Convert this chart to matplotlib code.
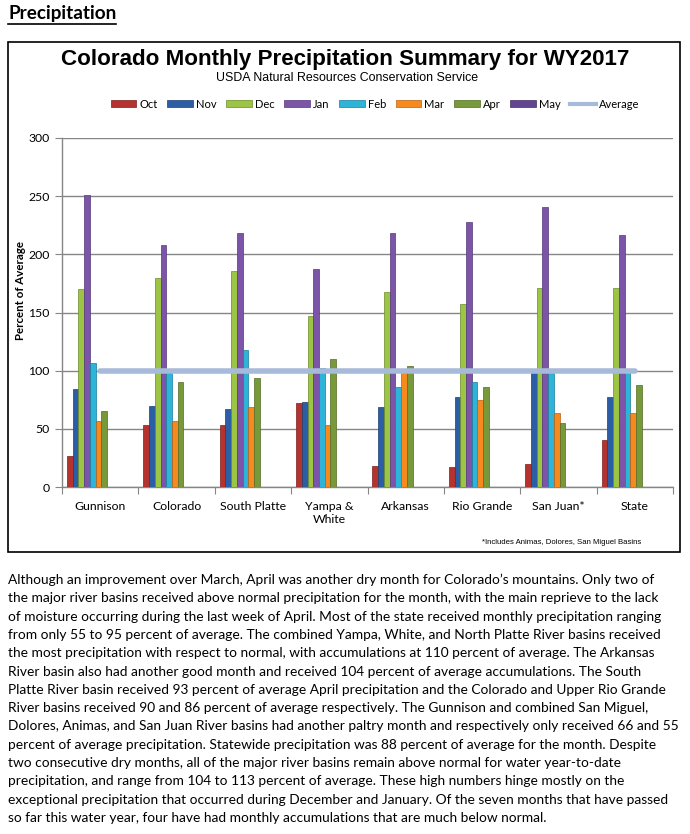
import matplotlib
matplotlib.use('Agg')
from matplotlib import pyplot as plt
from matplotlib.patches import Patch, Rectangle
from matplotlib.lines import Line2D

W, H = 690, 834

basins = ['Gunnison', 'Colorado', 'South Platte', 'Yampa &\nWhite', 'Arkansas',
          'Rio Grande', 'San Juan*', 'State']
months = ['Oct', 'Nov', 'Dec', 'Jan', 'Feb', 'Mar', 'Apr', 'May']

oct_vals = [27, 53, 53, 72, 18, 17, 20, 40]
nov_vals = [84, 70, 67, 73, 69, 77, 99, 77]
dec_vals = [170, 180, 186, 147, 168, 157, 171, 171]
jan_vals = [251, 208, 218, 187, 218, 228, 241, 217]
feb_vals = [107, 98, 118, 102, 86, 90, 99, 99]
mar_vals = [57, 57, 69, 53, 98, 75, 64, 64]
apr_vals = [65, 90, 94, 110, 104, 86, 55, 88]
may_vals = []  # no data yet, legend only
average = [100, 100, 100, 100, 100, 100, 100, 100]

series = [oct_vals, nov_vals, dec_vals, jan_vals, feb_vals, mar_vals, apr_vals, may_vals]
colors = ['#b5332f', '#2c5ea6', '#9cc546', '#7c55a8', '#2db4d8', '#f68a1f', '#78993a', '#634693']
edges = ['#7d1f1c', '#1d3f70', '#6a8a2a', '#55387a', '#1a7d98', '#b45f10', '#536b25', '#44305f']

paragraph = [
    "Although an improvement over March, April was another dry month for Colorado\u2019s mountains. Only two of",
    "the major river basins received above normal precipitation for the month, with the main reprieve to the lack",
    "of moisture occurring during the last week of April. Most of the state received monthly precipitation ranging",
    "from only 55 to 95 percent of average. The combined Yampa, White, and North Platte River basins received",
    "the most precipitation with respect to normal, with accumulations at 110 percent of average. The Arkansas",
    "River basin also had another good month and received 104 percent of average accumulations. The South",
    "Platte River basin received 93 percent of average April precipitation and the Colorado and Upper Rio Grande",
    "River basins received 90 and 86 percent of average respectively. The Gunnison and combined San Miguel,",
    "Dolores, Animas, and San Juan River basins had another paltry month and respectively only received 66 and 55",
    "percent of average precipitation. Statewide precipitation was 88 percent of average for the month. Despite",
    "two consecutive dry months, all of the major river basins remain above normal for water year-to-date",
    "precipitation, and range from 104 to 113 percent of average. These high numbers hinge mostly on the",
    "exceptional precipitation that occurred during December and January. Of the seven months that have passed",
    "so far this water year, four have had monthly accumulations that are much below normal.",
]


def fx(px):
    return px / W


def fy(py):
    return 1 - py / H


fig = plt.figure(figsize=(W / 100, H / 100), dpi=100)
fig.patch.set_facecolor('white')

# heading
head = fig.text(fx(8), fy(13), 'Precipitation', fontsize=13.6, fontweight='bold',
                family='Lato', va='center', ha='left')

# chart border
fig.patches.append(Rectangle((fx(8), fy(552)), fx(680) - fx(8), fy(42) - fy(552),
                             transform=fig.transFigure, fill=False, ec='black', lw=1.2))

fig.text(fx(345), fy(60), 'Colorado Monthly Precipitation Summary for WY2017',
         fontsize=16.1, fontweight='bold', family='Liberation Sans', ha='center', va='center')
fig.text(fx(347), fy(78), 'USDA Natural Resources Conservation Service',
         fontsize=8.9, family='Liberation Sans', ha='center', va='center')

ax = fig.add_axes([fx(62), fy(487), (673 - 62) / W, (487 - 138) / H])
bw = 0.075
off = 0.065
for j, vals in enumerate(series):
    if not vals:
        continue
    xs = [i + off + j * bw for i in range(len(vals))]
    ax.bar(xs, vals, width=bw, align='edge', color=colors[j], edgecolor=edges[j],
           linewidth=0.5, zorder=3)

ax.plot([i + 0.5 for i in range(len(average))], average, color='#a8bada', lw=4,
        solid_capstyle='round', zorder=4)

ax.set_xlim(0, len(basins))
ax.set_ylim(0, 300)
ax.set_yticks(range(0, 301, 50))
ax.set_xticks(range(0, len(basins) + 1))
ax.set_xticklabels([])
ax.set_xticks([i + 0.5 for i in range(len(basins))], minor=True)
ax.set_xticklabels(basins, minor=True, family='Lato', fontsize=8.8, linespacing=1.2)
ax.tick_params(axis='x', which='minor', length=0, pad=10)
ax.tick_params(axis='x', which='major', length=5, color='#868686', direction='out')
ax.tick_params(axis='y', length=5, color='#868686', direction='out', pad=4, labelsize=8.8)
for lab in ax.get_yticklabels():
    lab.set_family('Lato')
ax.grid(axis='y', color='#868686', lw=1, zorder=0)
ax.set_axisbelow(True)
for s in ['top', 'right']:
    ax.spines[s].set_visible(False)
for s in ['left', 'bottom']:
    ax.spines[s].set_color('#868686')
    ax.spines[s].set_linewidth(1)

fig.text(fx(21), fy(291), 'Percent of Average', rotation=90, family='Lato',
         fontweight='bold', fontsize=8.3, ha='center', va='center')

handles = [Patch(facecolor=colors[j], edgecolor=edges[j], lw=0.5, label=m)
           for j, m in enumerate(months)]
handles.append(Line2D([0], [0], color='#a8bada', lw=3, label='Average'))
fig.legend(handles=handles, loc='center', bbox_to_anchor=(fx(375), fy(104)), ncol=9,
           frameon=False, prop={'family': 'Lato', 'size': 8}, handlelength=2.3,
           handleheight=0.55, handletextpad=0.25, columnspacing=0.9, borderpad=0)

fig.text(fx(641), fy(543), '*Includes Animas, Dolores, San Miguel Basins',
         family='Liberation Sans', fontsize=5.6, ha='right', va='center')

# body paragraph
y0 = 580
for k, line in enumerate(paragraph):
    fig.text(fx(8), fy(y0 + k * 18.3), line, family='Lato', fontsize=9.95,
             ha='left', va='center')

# underline the heading
fig.canvas.draw()
bb = head.get_window_extent()
fig.add_artist(Line2D([fx(8), bb.x1 / W], [fy(24), fy(24)], color='black', lw=1.2,
                      transform=fig.transFigure))

fig.savefig('out.png', dpi=100)
